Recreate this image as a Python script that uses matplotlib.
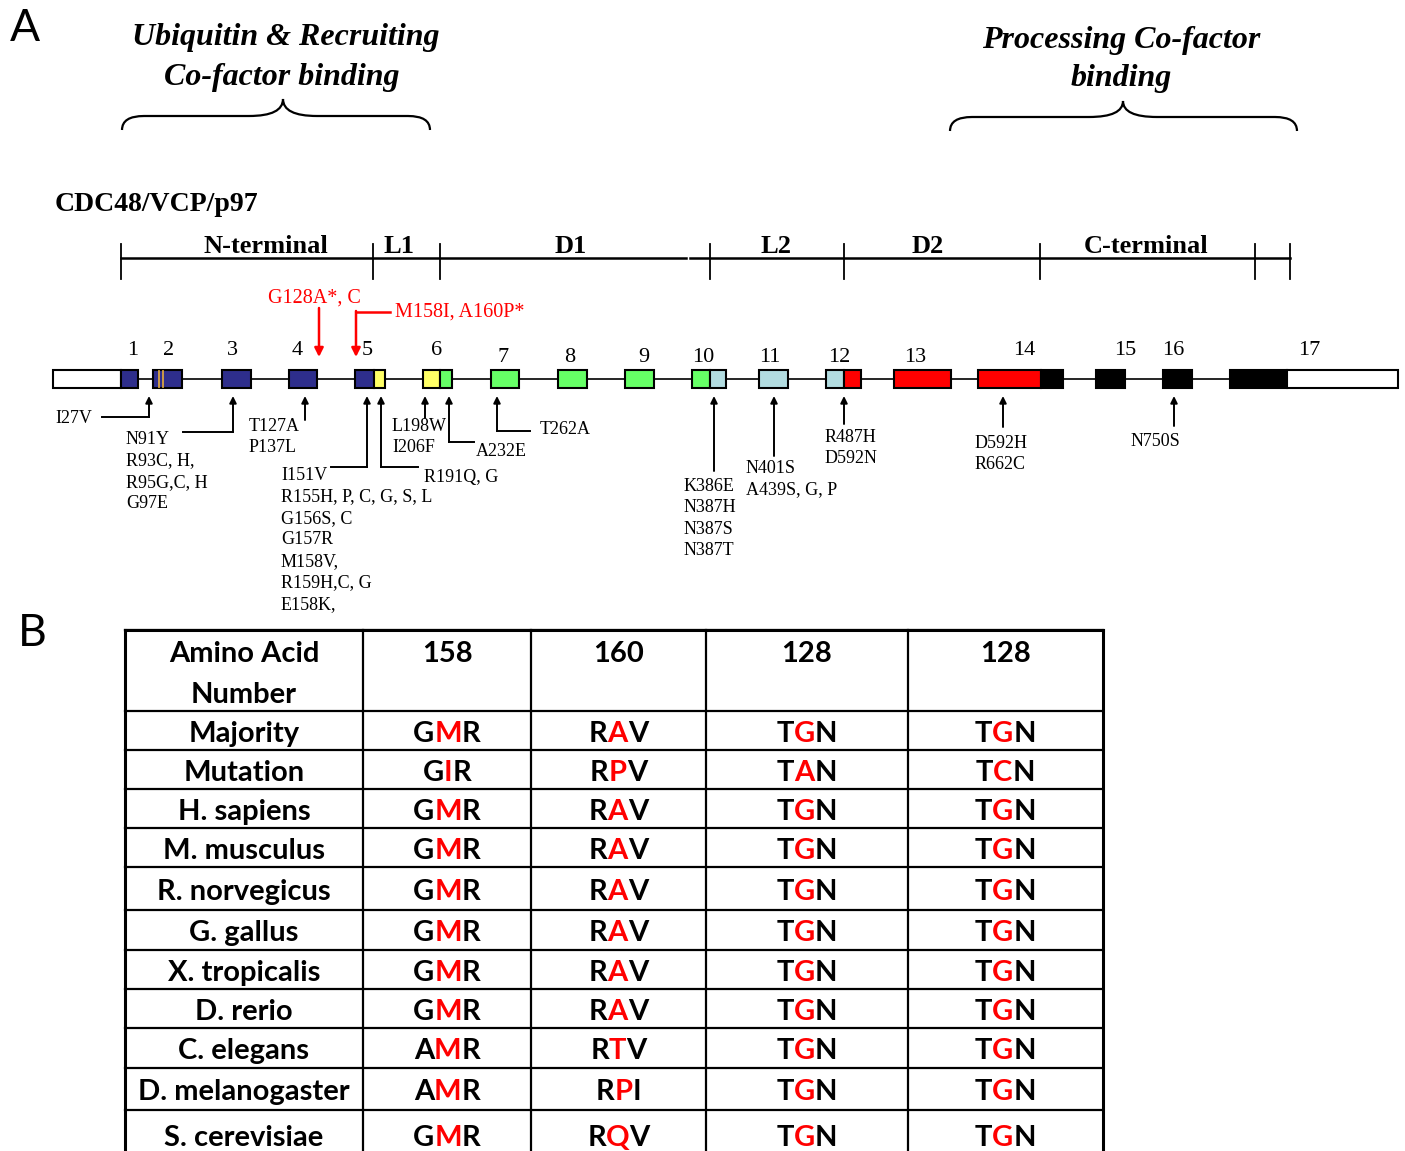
import matplotlib.pyplot as plt
from matplotlib.patches import Rectangle, PathPatch
from matplotlib.path import Path
from matplotlib.offsetbox import TextArea, HPacker, AnnotationBbox

SERIF = ['Liberation Serif', 'DejaVu Serif']
SANS = ['Lato', 'DejaVu Sans']

# ---- panel A data ----
# exon parts along the gene track: (start, end, domain)
exon_numbers = list(range(1, 18))
exon_parts = [
    [(53, 121, 'UTR'), (121, 138, 'N')],
    [(153, 182, 'N')],
    [(222, 251, 'N')],
    [(289, 317, 'N')],
    [(355, 374, 'N'), (374, 385, 'L1')],
    [(423, 440, 'L1'), (440, 452, 'D1')],
    [(491, 519, 'D1')],
    [(558, 587, 'D1')],
    [(625, 654, 'D1')],
    [(692, 710, 'D1'), (710, 726, 'L2')],
    [(759, 788, 'L2')],
    [(826, 844, 'L2'), (844, 861, 'D2')],
    [(894, 951, 'D2')],
    [(978, 1041, 'D2'), (1041, 1063, 'C')],
    [(1096, 1125, 'C')],
    [(1163, 1192, 'C')],
    [(1230, 1287, 'C'), (1287, 1398, 'UTR')],
]
exon2_stripes = [158.5, 162.5]

domain_names = ['N-terminal', 'L1', 'D1', 'L2', 'D2', 'C-terminal']
domain_edges = [121, 373, 440, 710, 844, 1040, 1255, 1290]

# disease mutations: site on the track and their labels
mut_site_x = [149, 233, 305, 367, 381, 425, 449, 497, 714, 774, 844, 1003, 1174]
mut_labels = [
    ['I27V'],
    ['N91Y', 'R93C, H,', 'R95G,C, H', 'G97E'],
    ['T127A', 'P137L'],
    ['I151V', 'R155H, P, C, G, S, L', 'G156S, C', 'G157R', 'M158V,', 'R159H,C, G', 'E158K,'],
    ['R191Q, G'],
    ['L198W', 'I206F'],
    ['A232E'],
    ['T262A'],
    ['K386E', 'N387H', 'N387S', 'N387T'],
    ['N401S', 'A439S, G, P'],
    ['R487H', 'D592N'],
    ['D592H', 'R662C'],
    ['N750S'],
]
new_mut_site_x = [319, 356]
new_mut_labels = ['G128A*, C', 'M158I, A160P*']

# ---- panel B data ----
col_header = ['158', '160', '128', '128']
species = ['Majority', 'Mutation', 'H. sapiens', 'M. musculus', 'R. norvegicus',
           'G. gallus', 'X. tropicalis', 'D. rerio', 'C. elegans',
           'D. melanogaster', 'S. cerevisiae']
aa158 = ['GMR', 'GIR', 'GMR', 'GMR', 'GMR', 'GMR', 'GMR', 'GMR', 'AMR', 'AMR', 'GMR']
aa160 = ['RAV', 'RPV', 'RAV', 'RAV', 'RAV', 'RAV', 'RAV', 'RAV', 'RTV', 'RPI', 'RQV']
aa128a = ['TGN', 'TAN'] + ['TGN'] * 9
aa128b = ['TGN', 'TCN'] + ['TGN'] * 9

# ---- styles / layout ----
domain_colors = {'UTR': 'white', 'N': '#2E2E8C', 'L1': '#FFFF66', 'D1': '#66FF66',
                 'L2': '#B2DCE0', 'D2': '#FF0000', 'C': '#000000'}
number_x = [133, 169, 232, 297, 367, 437, 503, 570, 644, 703, 770, 839, 915, 1024, 1125, 1173, 1309]
number_y = [350] * 6 + [357] * 7 + [350] * 4
domain_label_x = [266, 399, 571, 776, 928, 1146]
# text anchor (x, y of first line) and elbow (None = straight arrow)
mut_text_pos = [(55, 418), (126, 439), (249, 426), (281, 475), (424, 477), (392, 426),
                (476, 451), (540, 429), (684, 486), (746, 468), (825, 437), (975, 443), (1131, 441)]
mut_elbow = [(102, 417), (183, 432), None, (331, 467), (418, 467), None,
             (474, 442), (530, 431), None, None, None, None, None]
mut_arrow_bottom = [417, 432, 420, 467, 467, 418, 442, 431, 471, 456, 424, 427, 426]
line_dy = 21.6

TRACK_Y = 379
BOX_H = 18
ARROW_TIP = 396

fig = plt.figure(figsize=(14.05, 11.51), dpi=100)
ax = fig.add_axes([0, 0, 1, 1])
ax.set_xlim(0, 1405)
ax.set_ylim(1151, 0)
ax.axis('off')

# panel letters
ax.text(10, 28, 'A', fontsize=32, family=SANS, va='center', ha='left')
ax.text(18, 633, 'B', fontsize=32, family=SANS, va='center', ha='left')

# co-factor binding titles
title_kw = dict(fontsize=23, family=SERIF, style='italic', weight='bold', ha='center', va='center')
ax.text(286, 37, 'Ubiquitin & Recruiting', **title_kw)
ax.text(282, 77, 'Co-factor binding', **title_kw)
ax.text(1121, 40, 'Processing Co-factor', **title_kw)
ax.text(1121, 78, 'binding', **title_kw)


def brace(x0, x1, xm, y_end, y_body, y_tip, r=22, rm=34):
    verts = [(x0, y_end), (x0, y_body), (x0 + r, y_body), (xm - rm, y_body),
             (xm, y_body), (xm, y_tip), (xm, y_body), (xm + rm, y_body),
             (x1 - r, y_body), (x1, y_body), (x1, y_end)]
    codes = [Path.MOVETO, Path.CURVE3, Path.CURVE3, Path.LINETO,
             Path.CURVE3, Path.CURVE3, Path.CURVE3, Path.CURVE3,
             Path.LINETO, Path.CURVE3, Path.CURVE3]
    ax.add_patch(PathPatch(Path(verts, codes), fc='none', ec='black', lw=1.6))


brace(122, 430, 283, 130, 116, 99)
brace(950, 1297, 1123, 131, 117, 101)

# protein domain bar
ax.text(55, 204, 'CDC48/VCP/p97', fontsize=20, family=SERIF, weight='bold', va='center')
ax.plot([domain_edges[0], 686], [258, 258], color='k', lw=1.8)
ax.plot([690, domain_edges[-1]], [258, 258], color='k', lw=1.8)
for xe in domain_edges:
    ax.plot([xe, xe], [244, 279], color='k', lw=1.3)
for name, xl in zip(domain_names, domain_label_x):
    ax.text(xl, 253, name, fontsize=19, family=SERIF, weight='bold', ha='center', va='baseline')

# gene track
ax.plot([exon_parts[0][0][0], exon_parts[-1][-1][1]], [TRACK_Y, TRACK_Y], color='k', lw=1.2, zorder=1)
for parts in exon_parts:
    for a, b, d in parts:
        ax.add_patch(Rectangle((a, TRACK_Y - BOX_H / 2), b - a, BOX_H, fc=domain_colors[d],
                               ec='k', lw=1.5, zorder=2))
for xs in exon2_stripes:
    ax.plot([xs, xs], [TRACK_Y - BOX_H / 2 + 1, TRACK_Y + BOX_H / 2 - 1], color='#D9A441', lw=1.3, zorder=3)
for n, xn, yn in zip(exon_numbers, number_x, number_y):
    ax.text(xn, yn, str(n), fontsize=16, family=SERIF, ha='center', va='center')

# new mutations (red)
arrow_red = dict(arrowstyle='-|>', color='red', lw=1.8, mutation_scale=13, shrinkA=0, shrinkB=0)
ax.text(314, 298, new_mut_labels[0], fontsize=14.5, family=SERIF, color='red', ha='center', va='center')
ax.annotate('', xy=(new_mut_site_x[0], 357), xytext=(new_mut_site_x[0], 308), arrowprops=arrow_red)
ax.text(395, 312, new_mut_labels[1], fontsize=14.5, family=SERIF, color='red', ha='left', va='center')
ax.plot([390, new_mut_site_x[1]], [312, 312], color='red', lw=1.8)
ax.annotate('', xy=(new_mut_site_x[1], 357), xytext=(new_mut_site_x[1], 311), arrowprops=arrow_red)

# known mutations (black)
arrow_k = dict(arrowstyle='-|>', color='black', lw=1.4, mutation_scale=10, shrinkA=0, shrinkB=0)
for xs, labels, (tx, ty), elbow, yb in zip(mut_site_x, mut_labels, mut_text_pos,
                                           mut_elbow, mut_arrow_bottom):
    for k, lab in enumerate(labels):
        ax.text(tx, ty + k * line_dy, lab, fontsize=13, family=SERIF, ha='left', va='center')
    if elbow is not None:
        ax.plot([elbow[0], xs], [elbow[1], elbow[1]], color='k', lw=1.4)
    ax.annotate('', xy=(xs, ARROW_TIP), xytext=(xs, yb), arrowprops=arrow_k)

# ---- panel B: conservation table ----
col_edges = [125, 363, 531, 706, 908, 1103]
row_edges = [630, 711, 750, 789, 828, 867, 910, 950, 989, 1028, 1068, 1110, 1160]
TFS = 21
DY = 3  # text offset inside cells

for ye in row_edges[:-1]:
    ax.plot([col_edges[0], col_edges[-1]], [ye, ye], color='k', lw=1.6)
for i, xe in enumerate(col_edges):
    ax.plot([xe, xe], [row_edges[0], row_edges[-1]], color='k',
            lw=2.2 if i in (0, len(col_edges) - 1) else 1.6)
ax.plot([col_edges[0], col_edges[-1]], [row_edges[0], row_edges[0]], color='k', lw=2.2)

ax.text((col_edges[0] + col_edges[1]) / 2, 651 + DY, 'Amino Acid', fontsize=TFS, family=SANS,
        weight='bold', ha='center', va='center')
ax.text((col_edges[0] + col_edges[1]) / 2, 692 + DY, 'Number', fontsize=TFS, family=SANS,
        weight='bold', ha='center', va='center')
for j, h in enumerate(col_header):
    ax.text((col_edges[j + 1] + col_edges[j + 2]) / 2, 651 + DY, h, fontsize=TFS, family=SANS,
            weight='bold', ha='center', va='center')


def triplet(x, y, s):
    kids = [TextArea(c, textprops=dict(color='#FF0000' if k == 1 else 'black', fontsize=TFS,
                                       family=SANS, fontweight='bold'))
            for k, c in enumerate(s)]
    box = HPacker(children=kids, pad=0, sep=0, align='baseline')
    ax.add_artist(AnnotationBbox(box, (x, y), xycoords='data', frameon=False,
                                 box_alignment=(0.5, 0.5), pad=0))


columns = [aa158, aa160, aa128a, aa128b]
for i, sp in enumerate(species):
    yc = (row_edges[i + 1] + row_edges[i + 2]) / 2 + DY
    ax.text((col_edges[0] + col_edges[1]) / 2, yc, sp, fontsize=TFS, family=SANS,
            weight='bold', ha='center', va='center')
    for j, col in enumerate(columns):
        triplet((col_edges[j + 1] + col_edges[j + 2]) / 2, yc, col[i])

fig.savefig('out.png', dpi=100)
